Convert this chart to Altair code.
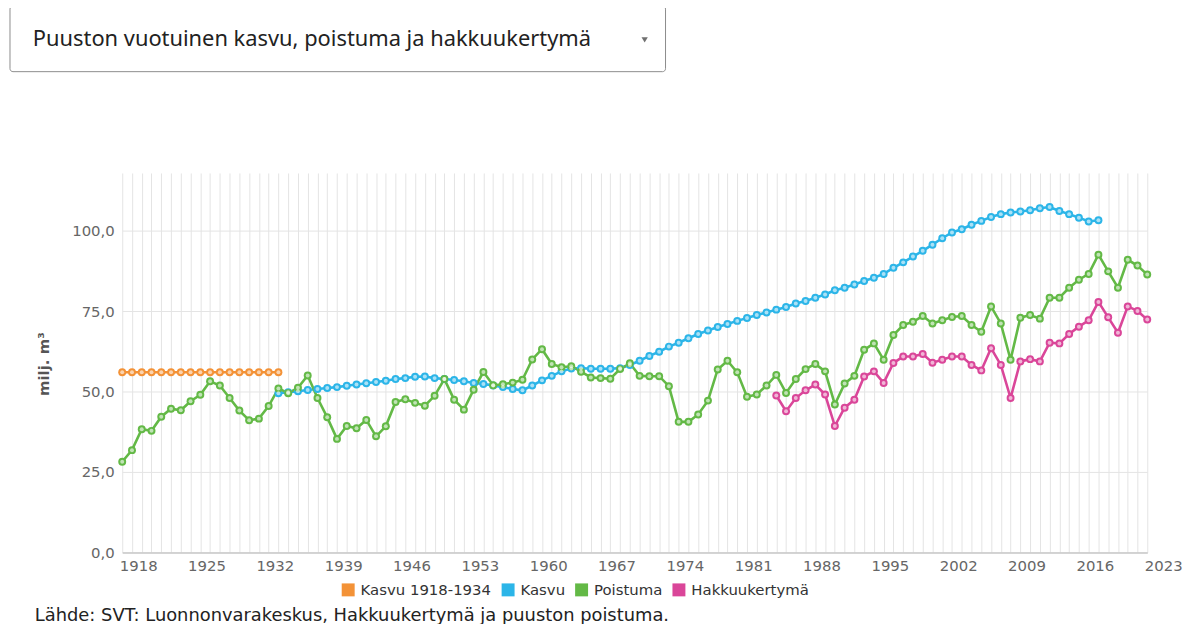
import altair as alt
import pandas as pd

# ---------------- data ----------------
series_names = ["Kasvu 1918-1934", "Kasvu", "Poistuma", "Hakkuukertymä"]
series_colors = ["#f39237", "#2cb5e8", "#63b946", "#da4699"]

kasvu_old_start = 1918
kasvu_old = [56.0, 56.0, 56.0, 56.0, 56.0, 56.0, 56.0, 56.0, 56.0,
             56.0, 56.0, 56.0, 56.0, 56.0, 56.0, 56.0, 56.0]

kasvu_start = 1934
kasvu = [49.5, 49.8, 50.1, 50.5, 50.8, 51.1, 51.4, 51.8, 52.2, 52.6,
         53.0, 53.4, 53.9, 54.2, 54.6, 54.7, 54.2, 53.9, 53.6, 53.2,
         52.7, 52.4, 51.9, 51.4, 50.8, 50.4, 51.9, 53.5, 54.9, 56.3,
         57.2, 57.3, 57.1, 57.1, 57.1, 57.3, 58.3, 59.6, 61.1, 62.4,
         64.0, 65.2, 66.6, 67.9, 69.0, 70.1, 71.0, 72.0, 72.9, 73.8,
         74.6, 75.5, 76.3, 77.4, 78.2, 79.2, 80.2, 81.5, 82.3, 83.3,
         84.4, 85.4, 86.6, 88.5, 90.2, 92.0, 93.8, 95.7, 97.7, 99.5,
         100.5, 101.9, 103.1, 104.3, 105.2, 105.7, 106.0, 106.4, 107.0, 107.4,
         106.2, 105.2, 104.1, 102.9, 103.3]

poistuma_start = 1918
poistuma = [28.2, 31.8, 38.3, 37.8, 42.2, 44.7, 44.2, 47.0, 49.0, 53.2,
            51.9, 48.0, 44.1, 41.1, 41.6, 45.5, 51.0, 49.5, 51.2, 55.0,
            48.0, 42.0, 35.3, 39.3, 38.6, 41.2, 36.1, 39.2, 46.8, 47.6,
            46.5, 45.6, 48.7, 53.9, 47.5, 44.4, 50.6, 56.1, 52.0, 52.3,
            52.8, 53.7, 60.0, 63.2, 58.6, 57.6, 57.9, 56.2, 54.4, 54.2,
            54.0, 57.0, 58.8, 54.9, 54.8, 54.8, 51.7, 40.6, 40.6, 42.9,
            47.2, 56.9, 59.6, 56.0, 48.4, 49.1, 51.9, 55.2, 49.6, 53.9,
            57.0, 58.6, 56.3, 46.0, 52.5, 54.9, 63.0, 65.0, 59.9, 67.6,
            70.7, 71.7, 73.5, 71.2, 72.2, 73.2, 73.5, 70.7, 68.6, 76.5,
            71.2, 59.9, 73.0, 73.8, 72.7, 79.2, 79.2, 82.3, 84.8, 86.6,
            92.6, 87.4, 82.3, 91.0, 89.2, 86.4]

hakkuu_start = 1985
hakkuu = [48.8, 43.9, 48.0, 50.4, 52.2, 49.1, 39.3, 45.0, 47.5, 54.7,
          56.3, 52.7, 58.9, 60.9, 60.9, 61.7, 59.0, 59.9, 60.9, 60.9,
          58.3, 56.6, 63.5, 58.3, 48.0, 59.4, 60.1, 59.4, 65.2, 65.0,
          67.9, 70.2, 72.2, 77.9, 73.1, 68.3, 76.5, 75.1, 72.4]

x_min, x_max = 1918, 2023
y_ticks = [0, 25, 50, 75, 100]
y_max = 118

dropdown_label = ["Puuston vuotuinen kasvu, poistuma ja hakkuukertymä"]
source_label = ["Lähde: SVT: Luonnonvarakeskus, Hakkuukertymä ja puuston poistuma."]
y_title = "milj. m³"

# ---------------- table ----------------
rows = []
for name, start, vals in [
    (series_names[0], kasvu_old_start, kasvu_old),
    (series_names[1], kasvu_start, kasvu),
    (series_names[2], poistuma_start, poistuma),
    (series_names[3], hakkuu_start, hakkuu),
]:
    for i, v in enumerate(vals):
        rows.append({"series": name, "year": start + i, "value": v})
df = pd.DataFrame(rows)

FONT = "DejaVu Sans"

x_enc = alt.X(
    "year:Q",
    scale=alt.Scale(domain=[x_min, x_max], nice=False, zero=False),
    axis=alt.Axis(
        values=list(range(x_min, x_max + 1)),
        labelExpr="(datum.value - 1918) % 7 === 0 ? '' + datum.value : ''",
        labelAlign="left", labelOffset=-3, labelPadding=6, labelBaseline="top",
        labelFont=FONT, labelFontSize=15, labelColor="#666666",
        labelOverlap=False, labelFlush=False, labelBound=False,
        ticks=False, domain=True, domainColor="#c8c8c8", domainWidth=1.5,
        grid=True, gridColor="#e4e4e4", gridWidth=1,
    ),
    title=None,
)
y_enc = alt.Y(
    "value:Q",
    scale=alt.Scale(domain=[0, y_max], nice=False, zero=True),
    axis=alt.Axis(
        values=y_ticks,
        labelExpr="replace(format(datum.value, '.1f'), '.', ',')",
        labelFont=FONT, labelFontSize=15, labelColor="#666666", labelPadding=8,
        ticks=False, domain=False, grid=True, gridColor="#e4e4e4", gridWidth=1,
        title=y_title, titleFont=FONT, titleFontSize=15, titleFontWeight="bold",
        titleColor="#555555", titleX=-74, titleY=192, titleAngle=-90,
        titleAlign="center", titleBaseline="alphabetic",
    ),
)

color_scale = alt.Scale(domain=series_names, range=series_colors)
legend = alt.Legend(
    title=None, orient="none", legendX=220, legendY=412,
    direction="horizontal", symbolType="square", symbolSize=170,
    symbolStrokeWidth=0, symbolOpacity=1, labelFont=FONT, labelFontSize=15,
    labelColor="#333333", labelOffset=5, columnPadding=9,
)
color_enc = alt.Color("series:N", scale=color_scale, legend=legend)

base = alt.Chart(df)

lines = base.mark_line(strokeWidth=2.6).encode(
    x=x_enc, y=y_enc, color=color_enc, detail="series:N",
)
points = base.mark_point(filled=True, size=64, opacity=1).encode(
    x=x_enc, y=y_enc, color=color_enc,
)
centers = base.mark_circle(size=16, color="#ffffff", opacity=0.6).encode(
    x=x_enc, y=y_enc,
)

# ---------------- decorations: dropdown box and source ----------------
dd_df = pd.DataFrame({"label": dropdown_label})
box = alt.Chart(dd_df).mark_rect(
    fill="#ffffff", stroke="#8c8c8c", strokeWidth=1, cornerRadius=3
).encode(x=alt.value(-113), x2=alt.value(547), y=alt.value(-168), y2=alt.value(-102))
box_text = alt.Chart(dd_df).mark_text(
    align="left", baseline="middle", font="Noto Sans", fontSize=22, color="#222222"
).encode(text="label:N", x=alt.value(-90), y=alt.value(-135))
arrow = alt.Chart(dd_df).mark_point(
    shape="triangle-down", filled=True, size=40, color="#333333"
).encode(x=alt.value(526), y=alt.value(-134))

src_df = pd.DataFrame({"label": source_label})
src = alt.Chart(src_df).mark_text(
    align="left", baseline="middle", font=FONT, fontSize=18, color="#222222"
).encode(text="label:N", x=alt.value(-88), y=alt.value(446))

chart = alt.layer(lines, points, centers, box, box_text, arrow, src).properties(
    width=1032, height=382,
    padding={"left": 115, "top": 164, "right": 36, "bottom": 70},
    autosize=alt.AutoSizeParams(type="none"),
    background="#ffffff",
).configure_view(strokeWidth=0)

chart.save("out.html", embed_options={"renderer": "svg", "actions": False})
